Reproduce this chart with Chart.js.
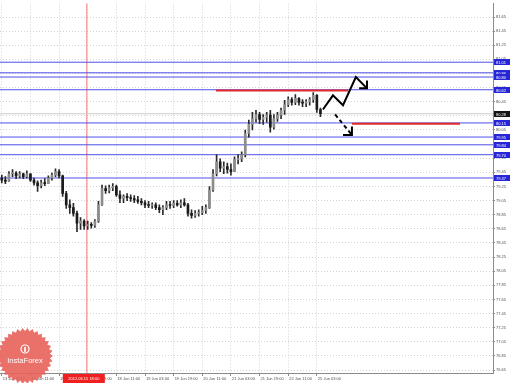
<!DOCTYPE html>
<html>
<head>
<meta charset="utf-8">
<title>USDJPY H1</title>
<script src="https://cdn.jsdelivr.net/npm/chart.js@4.4.1/dist/chart.umd.min.js"></script>
<style>
  html, body { margin: 0; padding: 0; background: #fff; }
  canvas { display: block; }
</style>
</head>
<body>
<canvas id="priceChart" width="512" height="383"></canvas>
<script>
// ===== candles, one per 2 hours, 13 Jun 19:00 -> 25 Jun 05:00 =====
const opens = [
  79.37, 79.34, 79.33, 79.43, 79.44, 79.40, 79.43, 79.39, 79.43, 79.34,
  79.30, 79.26, 79.30, 79.29, 79.37, 79.41, 79.46, 79.40, 79.15, 78.99,
  78.95, 78.87, 78.73, 78.76, 78.69, 78.71, 78.70, 78.76, 78.99, 79.22,
  79.19, 79.23, 79.25, 79.13, 79.08, 79.11, 79.09, 79.08, 79.06, 79.04,
  79.02, 78.99, 78.98, 78.99, 78.95, 78.92, 78.95, 78.99, 78.98, 79.01,
  78.99, 79.02, 78.99, 78.87, 78.84, 78.87, 78.88, 78.91, 78.95, 79.20,
  79.43, 79.60, 79.51, 79.53, 79.49, 79.46, 79.63, 79.64, 79.70, 80.00,
  80.13, 80.21, 80.27, 80.20, 80.23, 80.26, 80.09, 80.21, 80.26, 80.33,
  80.41, 80.48, 80.44, 80.50, 80.44, 80.43, 80.45, 80.48, 80.54, 80.34
];
const highs = [
  79.41, 79.39, 79.46, 79.49, 79.46, 79.46, 79.44, 79.47, 79.43, 79.37,
  79.33, 79.34, 79.36, 79.40, 79.44, 79.50, 79.49, 79.41, 79.18, 79.06,
  79.01, 78.90, 78.81, 78.78, 78.76, 78.74, 78.78, 79.04, 79.27, 79.26,
  79.27, 79.29, 79.27, 79.19, 79.13, 79.15, 79.13, 79.12, 79.11, 79.08,
  79.05, 79.04, 79.02, 79.02, 78.99, 78.98, 79.04, 79.04, 79.05, 79.05,
  79.06, 79.08, 79.01, 78.92, 78.91, 78.92, 78.97, 78.99, 79.25, 79.49,
  79.70, 79.64, 79.60, 79.58, 79.57, 79.67, 79.70, 79.74, 80.05, 80.19,
  80.30, 80.33, 80.30, 80.27, 80.30, 80.33, 80.27, 80.30, 80.36, 80.47,
  80.52, 80.51, 80.55, 80.51, 80.48, 80.48, 80.51, 80.58, 80.55, 80.36
];
const lows = [
  79.30, 79.29, 79.32, 79.39, 79.36, 79.37, 79.36, 79.37, 79.32, 79.27,
  79.18, 79.23, 79.26, 79.29, 79.34, 79.39, 79.37, 79.11, 78.94, 78.87,
  78.83, 78.61, 78.64, 78.64, 78.64, 78.66, 78.67, 78.74, 78.98, 79.15,
  79.16, 79.19, 79.11, 79.02, 79.02, 79.05, 79.04, 79.02, 79.01, 78.99,
  78.95, 78.95, 78.94, 78.92, 78.88, 78.85, 78.92, 78.94, 78.95, 78.97,
  78.95, 78.97, 78.83, 78.80, 78.81, 78.83, 78.85, 78.87, 78.94, 79.18,
  79.40, 79.46, 79.43, 79.44, 79.41, 79.46, 79.57, 79.60, 79.67, 79.95,
  80.05, 80.16, 80.14, 80.13, 80.16, 80.02, 80.06, 80.17, 80.21, 80.27,
  80.38, 80.40, 80.41, 80.40, 80.38, 80.38, 80.40, 80.44, 80.30, 80.24
];
const closes = [
  79.34, 79.32, 79.43, 79.44, 79.40, 79.43, 79.39, 79.43, 79.34, 79.30,
  79.26, 79.30, 79.29, 79.37, 79.41, 79.46, 79.40, 79.15, 78.99, 78.95,
  78.87, 78.73, 78.76, 78.69, 78.71, 78.70, 78.76, 78.99, 79.22, 79.19,
  79.23, 79.25, 79.13, 79.08, 79.11, 79.09, 79.08, 79.06, 79.04, 79.02,
  78.99, 78.98, 78.99, 78.95, 78.92, 78.95, 78.99, 78.98, 79.01, 78.99,
  79.02, 78.99, 78.87, 78.84, 78.87, 78.88, 78.91, 78.95, 79.20, 79.43,
  79.60, 79.51, 79.53, 79.49, 79.46, 79.63, 79.64, 79.70, 80.00, 80.13,
  80.21, 80.27, 80.20, 80.23, 80.26, 80.09, 80.21, 80.26, 80.33, 80.41,
  80.48, 80.44, 80.50, 80.44, 80.43, 80.45, 80.48, 80.54, 80.34, 80.28
];

// ===== axes =====
const xTickIdx = [0, 8, 16, 24, 32, 40, 48, 56, 64, 72, 80, 88];
const xTickLabels = [
  "13 Jun 2012", "14 Jun 11:00", "15 Jun 03:00", "15 Jun 19:00",
  "18 Jun 11:00", "19 Jun 03:00", "19 Jun 19:00", "20 Jun 11:00",
  "21 Jun 03:00", "21 Jun 19:00", "22 Jun 11:00", "25 Jun 03:00"
];
const yTickValues = [
  76.65, 76.85, 77.05, 77.25, 77.45, 77.65, 77.85, 78.05, 78.25, 78.45,
  78.65, 78.85, 79.05, 79.25, 79.45, 79.65, 79.85, 80.05, 80.25, 80.45,
  80.65, 80.85, 81.05, 81.25, 81.45, 81.65
];
const xMin = -0.5, xMax = 137.2;
const yMin = 76.608, yMax = 81.843;

// ===== drawn objects =====
const blueLevels = [81.01, 80.86, 80.80, 80.62, 80.15, 79.95, 79.84, 79.70, 79.37];
const redFrom = [59.8, 97.8];
const redTo = [96.7, 128.0];
const redPrice = [80.61, 80.14];
const zigzagX = [89.7, 92.5, 95.3, 98.9, 102.0];
const zigzagY = [80.34, 80.54, 80.40, 80.80, 80.64];
const zigHeadX = [99.8, 102.0, 102.0];
const zigHeadY = [80.64, 80.64, 80.75];
const dashX = [93.1, 97.8];
const dashY = [80.27, 79.98];
const dashHeadX = [95.3, 97.8, 97.8];
const dashHeadY = [79.98, 79.98, 80.10];
const crossIdx = 23.75;
const crossLabel = "2012.06.15 18:00";

const lastClose = closes[closes.length - 1];
const pts = (xs, ys) => xs.map((v, i) => ({ x: v, y: ys[i] }));
const flatLine = (color, width) => ({
  type: "line", borderColor: color, borderWidth: width,
  pointRadius: 0, tension: 0, fill: false,
});

function drawSeal(ctx, cx, cy, r) {
  const n = 34;
  ctx.beginPath();
  for (let k = 0; k < n * 2; k++) {
    const a = (k * Math.PI) / n;
    const rr = k % 2 ? r - 3 : r;
    const px = cx + rr * Math.cos(a), py = cy + rr * Math.sin(a);
    k ? ctx.lineTo(px, py) : ctx.moveTo(px, py);
  }
  ctx.closePath();
  ctx.fillStyle = "rgba(232, 96, 90, 0.9)";
  ctx.fill();
  // little icon
  ctx.strokeStyle = "#fff";
  ctx.lineWidth = 1.2;
  ctx.beginPath();
  ctx.arc(cx, cy - 7, 4, 0, Math.PI * 2);
  ctx.stroke();
  ctx.fillStyle = "#fff";
  ctx.fillRect(cx - 0.8, cy - 9, 1.6, 5);
  ctx.font = '7.5px "Liberation Sans"';
  ctx.textAlign = "center";
  ctx.textBaseline = "middle";
  ctx.fillText("InstaForex", cx, cy + 5);
}

const overlays = {
  id: "overlays",
  afterDraw(chart) {
    const { ctx, chartArea: a, scales: { x, y } } = chart;
    ctx.save();
    ctx.font = '4px "Liberation Sans"';
    ctx.textBaseline = "middle";
    ctx.textAlign = "left";
    const tag = (price, fill) => {
      const py = Math.round(y.getPixelForValue(price));
      ctx.fillStyle = fill;
      ctx.fillRect(a.right + 1, py - 3, 16, 6);
      ctx.fillStyle = "#fff";
      ctx.fillText(price.toFixed(2), a.right + 3, py + 0.5);
    };
    blueLevels.forEach((p) => tag(p, "#2626d8"));
    tag(lastClose, "#151515");

    const cx = x.getPixelForValue(crossIdx);
    ctx.fillStyle = "#f01e1e";
    ctx.fillRect(cx - 24, a.bottom + 1, 42, 9);
    ctx.fillStyle = "#fff";
    ctx.textAlign = "center";
    ctx.fillText(crossLabel, cx - 3, a.bottom + 5.5);

    drawSeal(ctx, 25, 356, 28);
    ctx.restore();
  },
};

const idx = closes.map((_, i) => i);
const datasets = [
  {
    label: "body",
    data: idx.map((i) => ({ x: i, y: [Math.min(opens[i], closes[i]), Math.max(opens[i], closes[i])] })),
    backgroundColor: idx.map((i) => (closes[i] >= opens[i] ? "#8c8c8c" : "#1a1a1a")),
    borderWidth: 0,
    barThickness: 2,
    minBarLength: 1,
    grouped: false,
  },
  {
    label: "wick",
    data: idx.map((i) => ({ x: i, y: [lows[i], highs[i]] })),
    backgroundColor: "#2a2a2a",
    barThickness: 1,
    grouped: false,
  },
  { ...flatLine("#000", 2), data: pts(zigzagX, zigzagY) },
  { ...flatLine("#000", 2), data: pts(zigHeadX, zigHeadY) },
  { ...flatLine("#000", 2), borderDash: [4, 3], data: pts(dashX, dashY) },
  { ...flatLine("#000", 2), data: pts(dashHeadX, dashHeadY) },
];
redPrice.forEach((p, i) => {
  datasets.push({ ...flatLine("#e12a2a", 2), data: pts([redFrom[i], redTo[i]], [p, p]) });
});
blueLevels.forEach((p) => {
  datasets.push({ ...flatLine("#5050ea", 1), data: pts([xMin, xMax], [p, p]) });
});
datasets.push({ ...flatLine("#cdcdcd", 1), data: pts([xMin, xMax], [lastClose, lastClose]) });
datasets.push({ ...flatLine("#f47a7a", 1), data: pts([crossIdx, crossIdx], [yMin, yMax]) });

new Chart(document.getElementById("priceChart"), {
  type: "bar",
  data: { datasets },
  plugins: [overlays],
  options: {
    responsive: false,
    animation: false,
    devicePixelRatio: 1,
    events: [],
    layout: { padding: 0 },
    plugins: { legend: { display: false }, tooltip: { enabled: false } },
    scales: {
      x: {
        type: "linear",
        min: xMin,
        max: xMax,
        offset: false,
        afterBuildTicks: (s) => { s.ticks = xTickIdx.map((v) => ({ value: v })); },
        afterFit: (s) => { s.height = 10; },
        ticks: {
          autoSkip: false,
          maxRotation: 0,
          minRotation: 0,
          align: "start",
          labelOffset: 1,
          padding: 0,
          color: "#505050",
          font: { family: "Liberation Sans", size: 4 },
          callback: (v) => xTickLabels[xTickIdx.indexOf(v)],
        },
        grid: { color: "#d4d4d4", offset: false, tickLength: 3, tickColor: "#8a8a8a", tickBorderDash: [] },
        border: { display: true, color: "#8a8a8a", dash: [1, 2] },
      },
      y: {
        position: "right",
        min: yMin,
        max: yMax,
        afterBuildTicks: (s) => { s.ticks = yTickValues.map((v) => ({ value: v })); },
        afterFit: (s) => { s.width = 19; },
        ticks: {
          padding: 1,
          color: "#505050",
          font: { family: "Liberation Sans", size: 4 },
          callback: (v) => v.toFixed(2),
        },
        grid: { color: "#d4d4d4", tickLength: 2, tickColor: "#8a8a8a", tickBorderDash: [] },
        border: { display: true, color: "#8a8a8a", dash: [1, 2] },
      },
    },
  },
});
</script>
</body>
</html>
